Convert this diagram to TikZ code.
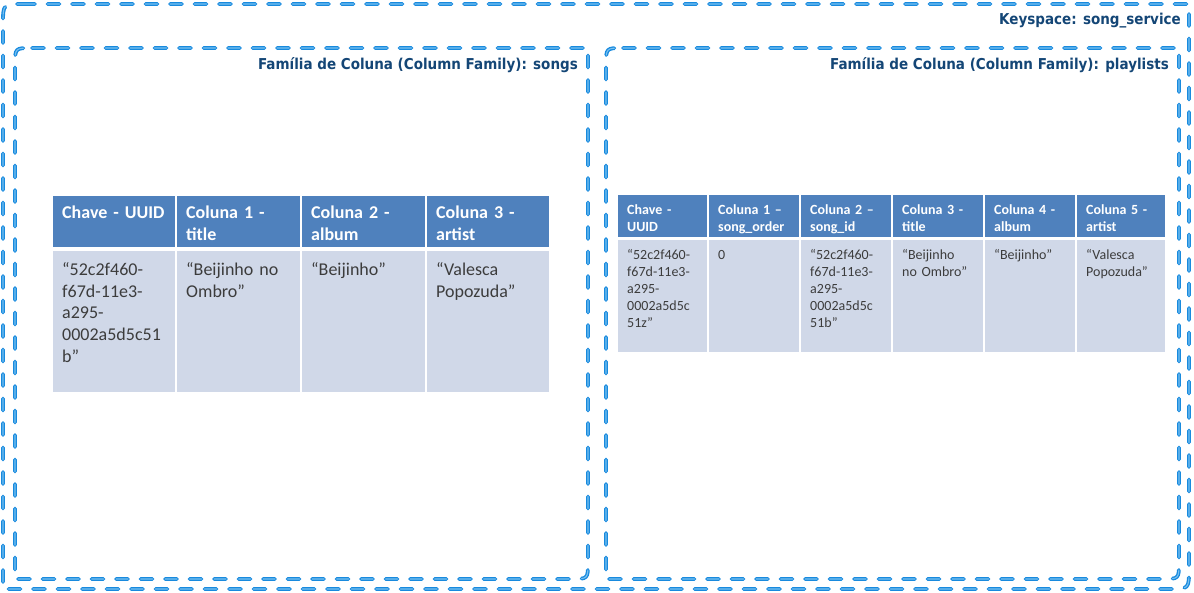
\documentclass[tikz,border=0pt]{standalone}
\usepackage{fontspec}
\setmainfont{Carlito}
\newfontfamily\labfont[FakeStretch=0.9,BoldFont={DejaVu Sans Bold}]{DejaVu Sans}
\definecolor{dashblue}{RGB}{24,138,222}
\definecolor{dashlight}{RGB}{120,192,240}
\definecolor{labblue}{RGB}{20,70,118}
\definecolor{hdrblue}{RGB}{79,129,189}
\definecolor{bodblue}{RGB}{208,216,232}
\definecolor{celltext}{RGB}{60,60,60}
\tikzset{
  dashout/.style={draw=dashblue, line width=3.8pt, dash pattern=on 12pt off 12.5pt, line cap=round, line join=round},
  dashin/.style={draw=dashlight, line width=1.1pt, dash pattern=on 12pt off 12.5pt, line cap=round, line join=round},
  boxlabel/.style={anchor=base east, inner sep=0pt, text=labblue, font=\labfont\bfseries\fontsize{15}{18}\selectfont},
  hdrcell/.style={fill=hdrblue},
  bodcell/.style={fill=bodblue},
  bigh/.style={anchor=north west, inner sep=0pt, text width=118pt, align=left, text=white, font=\bfseries\fontsize{18}{21.7}\selectfont},
  bigb/.style={anchor=north west, inner sep=0pt, text width=118pt, align=left, text=celltext, font=\fontsize{18}{21.7}\selectfont},
  smallh/.style={anchor=north west, inner sep=0pt, text width=88pt, align=left, text=white, font=\bfseries\fontsize{14}{17}\selectfont},
  smallb/.style={anchor=north west, inner sep=0pt, text width=88pt, align=left, text=celltext, font=\fontsize{14}{17}\selectfont},
}
\begin{document}
\begin{tikzpicture}[x=1pt,y=-1pt]
\useasboundingbox (0,0) rectangle (1194,593);
% dashed containers (round diagonal corners)
\foreach \s in {dashout,dashin}{
  \draw[\s] (23,4) -- (1189,4) -- (1189,569) .. controls (1189,589) .. (1169,589) -- (3,589) -- (3,24) .. controls (3,4) .. cycle;
  \draw[\s] (32,48) -- (588,48) -- (588,562) .. controls (588,579) .. (571,579) -- (15,579) -- (15,65) .. controls (15,48) .. cycle;
  \draw[\s] (623,48) -- (1179,48) -- (1179,562) .. controls (1179,579) .. (1162,579) -- (606,579) -- (606,65) .. controls (606,48) .. cycle;
}
\node[boxlabel] (ks) at (1181,25) {Keyspace: song\_service};
\node[boxlabel] (cfs) at (578,70) {Família de Coluna (Column Family): songs};
\node[boxlabel] (cfp) at (1169,70) {Família de Coluna (Column Family): playlists};
% table songs
\foreach \a/\b in {52/176,176/301,301/426,426/550}{
  \fill[hdrcell] (\a+1,196) rectangle (\b-1,247);
  \fill[bodcell] (\a+1,251) rectangle (\b-1,392);
}
\node[bigh] (s1h) at (62,203) {\strut Chave - UUID};
\node[bigh] (s2h) at (186,203) {\strut Coluna 1 -\\title};
\node[bigh] (s3h) at (311,203) {\strut Coluna 2 -\\album};
\node[bigh] (s4h) at (436,203) {\strut Coluna 3 -\\artist};
\node[bigb] (s1b) at (62,260) {\strut “52c2f460-\\f67d-11e3-\\a295-\\0002a5d5c51\\b”};
\node[bigb] (s2b) at (186,260) {\strut “Beijinho no\\Ombro”};
\node[bigb] (s3b) at (311,260) {\strut “Beijinho”};
\node[bigb] (s4b) at (436,260) {\strut “Valesca\\Popozuda”};
% table playlists
\foreach \a/\b in {617/708,708/800,800/892,892/984,984/1076,1076/1166}{
  \fill[hdrcell] (\a+1,195) rectangle (\b-1,237);
  \fill[bodcell] (\a+1,240) rectangle (\b-1,352);
}
\node[smallh] (p1h) at (627,202) {\strut Chave -\\UUID};
\node[smallh] (p2h) at (718,202) {\strut Coluna 1 –\\song\_order};
\node[smallh] (p3h) at (810,202) {\strut Coluna 2 –\\song\_id};
\node[smallh] (p4h) at (902,202) {\strut Coluna 3 -\\title};
\node[smallh] (p5h) at (994,202) {\strut Coluna 4 -\\album};
\node[smallh] (p6h) at (1086,202) {\strut Coluna 5 -\\artist};
\node[smallb] (p1b) at (627,247) {\strut “52c2f460-\\f67d-11e3-\\a295-\\0002a5d5c\\51z”};
\node[smallb] (p2b) at (718,247) {\strut 0};
\node[smallb] (p3b) at (810,247) {\strut “52c2f460-\\f67d-11e3-\\a295-\\0002a5d5c\\51b”};
\node[smallb] (p4b) at (902,247) {\strut “Beijinho\\no Ombro”};
\node[smallb] (p5b) at (994,247) {\strut “Beijinho”};
\node[smallb] (p6b) at (1086,247) {\strut “Valesca\\Popozuda”};
\end{tikzpicture}
\end{document}
